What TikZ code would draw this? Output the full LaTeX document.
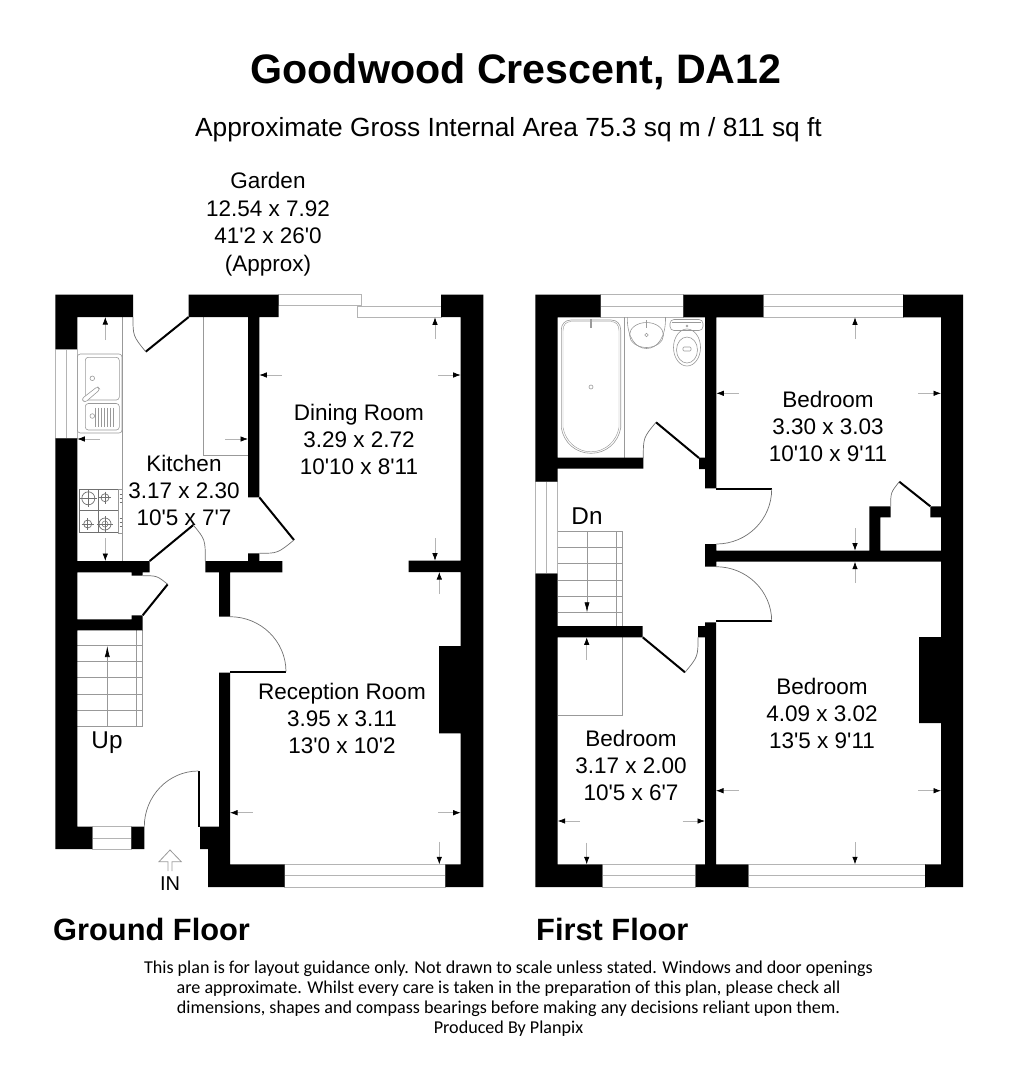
\documentclass[tikz,border=0pt]{standalone}
\usepackage{fontspec}
\setmainfont{Liberation Sans}[Ligatures=TeXOff]
\newfontfamily\footfont{Carlito}
\usetikzlibrary{arrows.meta}
\definecolor{fixt}{HTML}{B4B4B4}
\definecolor{swing}{HTML}{707070}
\tikzset{
  wall/.style={fill=black,draw=none},
  fixture/.style={draw=fixt,line width=0.8pt},
  thin fixture/.style={draw=fixt!85!black,line width=0.6pt},
  leaf/.style={draw=black,line width=2pt},
  doorswing/.style={draw=swing,line width=0.7pt},
  dimarrow/.style={draw=fixt,line width=0.7pt,-{Latex[black,length=7.5pt,width=5.5pt]}},
  room/.style={font=\fontsize{22.5}{27}\selectfont,align=center,inner sep=0pt,text=black},
  floorname/.style={font=\fontsize{30.8}{34}\selectfont\bfseries,anchor=base west,inner sep=0pt},
}
\begin{document}
\begin{tikzpicture}[x=1pt,y=-1pt]
\useasboundingbox (0,0) rectangle (1010,1080);

% ---------- Titles
\node[inner sep=0pt,font=\fontsize{41.2}{45}\selectfont\bfseries] (title) at (516,72) {Goodwood Crescent, DA12};
\node[inner sep=0pt,font=\fontsize{26.3}{30}\selectfont] (subtitle) at (508.5,130) {Approximate Gross Internal Area 75.3 sq m / 811 sq ft};
\node[room,font=\fontsize{22.5}{27.6}\selectfont] (garden) at (268,224) {Garden\\12.54 x 7.92\\41'2 x 26'0\\(Approx)};
\node[floorname] (gf) at (53,940) {Ground Floor};
\node[floorname] (ff) at (536,940) {First Floor};
\node[inner sep=0pt,align=center,font=\fontsize{18.1}{20}\selectfont\footfont] (disclaimer) at (508.5,998.5)
 {This plan is for layout guidance only. Not drawn to scale unless stated. Windows and door openings\\
  are approximate. Whilst every care is taken in the preparation of this plan, please check all\\
  dimensions, shapes and compass bearings before making any decisions reliant upon them.\\
  Produced By Planpix};

% ---------- Ground floor fixtures (under the walls)
% windows
\draw[fixture] (55.3,349) rectangle (77.3,438.3) (66.7,349) -- (66.7,438.3);
\draw[fixture] (92.3,826.7) rectangle (131.3,849) (92.3,838) -- (131.3,838);
\draw[fixture] (284.7,864.3) rectangle (445.3,887) (284.7,875.7) -- (445.3,875.7);
\draw[fixture] (278.7,294.7) rectangle (361.7,305);
\draw[fixture] (357.7,306.7) rectangle (441,317.3);
% worktops
\draw[thin fixture] (122,317) -- (122,561);
\draw[thin fixture] (203.3,317) -- (203.3,455.7) -- (248,455.7);
% sink
\draw[thin fixture,rounded corners=3pt] (77.3,354) rectangle (122,433);
\draw[thin fixture,rounded corners=3pt] (85.3,357.3) rectangle (119.3,400);
\draw[thin fixture,rounded corners=3pt] (85.3,403.5) rectangle (119.3,430);
\draw[thin fixture] (92.3,378.3) circle (2.3) (92.3,416) circle (2.3);
\draw[thin fixture,fill=white,rounded corners=2.5pt] (81.5,399) -- (97.5,386.5) -- (100,389.5) -- (85,402.5) -- cycle;
\foreach \lx in {95,98,101,104,107,110,113} \draw[thin fixture,line width=0.5pt] (\lx,407.5) -- (\lx,426.5);
% hob
\draw[draw=swing,line width=0.9pt] (79,489) rectangle (118.5,532.5) (98.8,489) -- (98.8,532.5) (79,510) -- (118.5,510);
\draw[thin fixture] (118.5,489) rectangle (122.5,533);
\foreach \hx/\hy/\hr in {88.3/498.3/6.5,105/497.7/4,87.7/524/4,105/524/6}{
  \draw[draw=swing,line width=0.7pt] (\hx,\hy) circle (\hr);
  \draw[draw=swing,line width=0.5pt] (\hx-\hr-2,\hy) -- (\hx+\hr+2,\hy) (\hx,\hy-\hr-2) -- (\hx,\hy+\hr+2);
}
\draw[draw=swing,line width=0.5pt] (105,524) circle (3);
\foreach \cy in {494,498,502,518,522,526} \draw[draw=swing,line width=0.8pt] (119.5,\cy) -- (121.5,\cy);
% stairs up
\draw[thin fixture] (136.7,630) -- (136.7,726.7) (142.7,630) -- (142.7,726.7);
\foreach \ty in {645,661.3,677.7,694,710.3,726.7} \draw[thin fixture] (77.3,\ty) -- (142.7,\ty);
\draw[thin fixture,-{Latex[black,length=11pt,width=5pt]}] (107.3,726.7) -- (107.3,646);

% ---------- Ground floor walls
\fill[wall] (55.3,294.7) rectangle (133,317)
  (55.3,294.7) rectangle (77.3,349)
  (55.3,438.3) rectangle (77.3,849)
  (55.3,826.7) rectangle (92.3,849)
  (131.3,826.7) rectangle (144.3,849)
  (188.7,294.7) rectangle (278.7,317)
  (248,317) rectangle (259.3,497.3)
  (248,553.3) rectangle (259.3,565)
  (205.3,561) rectangle (282.3,572.3)
  (77.3,561) rectangle (149.7,572.3)
  (131.7,572.3) rectangle (142.7,575.7)
  (219,572) rectangle (230,616.7)
  (219,672.7) rectangle (230,887)
  (77.3,619.3) rectangle (142.7,630.3)
  (131.7,615.3) rectangle (142.7,630.3)
  (200,826.7) rectangle (219,849)
  (208,849) rectangle (230,887)
  (208,864.3) rectangle (284.7,887)
  (445.3,864.3) rectangle (483.3,887)
  (460.7,294.7) rectangle (483.3,887)
  (441,294.7) rectangle (483.3,317)
  (439,646) rectangle (460.7,733.3)
  (408.7,560.7) rectangle (460.7,572);

% ---------- Ground floor doors
\draw[leaf] (188.7,317) -- (145.7,351.7);
\draw[doorswing] (145.7,351.7) .. controls (133,336) .. (133,317);
\draw[leaf] (149.7,561) -- (193.3,525);
\draw[doorswing] (193.3,525) .. controls (205.3,539.5) .. (205.3,561);
\draw[leaf] (259.3,497.3) -- (294,540);
\draw[doorswing] (294,540) .. controls (277.7,553.3) .. (259.3,553.3);
\draw[leaf] (142.7,615.3) -- (167.7,584.3);
\draw[doorswing] (167.7,584.3) .. controls (157,575.7) .. (142.7,575.7);
\draw[leaf] (230,671.7) -- (286,671.7);
\draw[doorswing] (286,671.7) .. controls (286,641.3) and (260.9,616.7) .. (230,616.7);
\draw[leaf] (199,826.7) -- (199,771);
\draw[doorswing] (198.3,771) .. controls (168.5,771) and (144.3,796) .. (144.3,826.7);

% IN arrow
\draw[thin fixture,line width=0.8pt] (168,871) -- (168,861.7) -- (159,861.7) -- (170,850) -- (181.3,861.7) -- (172,861.7) -- (172,871);
\node[inner sep=0pt,anchor=base,font=\fontsize{20}{22}\selectfont] (in) at (170,890.7) {IN};
\node[inner sep=0pt,anchor=base,font=\fontsize{24.3}{26}\selectfont] (up) at (107,748.3) {Up};

% ---------- Ground floor dimension arrows
\draw[dimarrow] (105.3,340) -- (105.3,317);
\draw[dimarrow] (100,439) -- (77.3,439);
\draw[dimarrow] (225,439) -- (248,439);
\draw[dimarrow] (105.3,538) -- (105.3,561);
\draw[dimarrow] (281.7,375) -- (259.3,375);
\draw[dimarrow] (438,375) -- (460.7,375);
\draw[dimarrow] (435,339) -- (435,317.3);
\draw[dimarrow] (435,538) -- (435,560.7);
\draw[dimarrow] (439.3,594) -- (439.3,572);
\draw[dimarrow] (252.7,812.7) -- (230,812.7);
\draw[dimarrow] (438,812.7) -- (460.7,812.7);
\draw[dimarrow] (439.3,841.7) -- (439.3,864.3);

% ---------- Ground floor labels
\node[room] (kitchen) at (184,490.5) {Kitchen\\3.17 x 2.30\\10'5 x 7'7};
\node[room] (dining) at (359,439) {Dining Room\\3.29 x 2.72\\10'10 x 8'11};
\node[room] (reception) at (342,718) {Reception Room\\3.95 x 3.11\\13'0 x 10'2};

% ---------- First floor fixtures
\draw[fixture] (600.7,294.7) rectangle (683.3,317.3) (600.7,306) -- (683.3,306);
\draw[fixture] (763.3,294.7) rectangle (903,317.3) (763.3,306) -- (903,306);
\draw[fixture] (535.3,481.7) rectangle (557.7,573.7) (546.7,481.7) -- (546.7,573.7);
\draw[fixture] (602.3,864.3) rectangle (695.7,887) (602.3,875.7) -- (695.7,875.7);
\draw[fixture] (748.3,864.3) rectangle (925,887) (748.3,875.7) -- (925,875.7);
% bath
\draw[thin fixture] (561.3,330) .. controls (561.3,324) and (565,320) .. (571,320) -- (611,320) .. controls (617,320) and (620.7,324) .. (620.7,330) -- (620.7,428) .. controls (618,443) and (606,453.3) .. (591,453.3) .. controls (576,453.3) and (564,443) .. (561.3,428) -- cycle;
\draw[thin fixture,line width=0.45pt] (563,330.5) .. controls (563,325) and (566,321.5) .. (571,321.5) -- (611,321.5) .. controls (616,321.5) and (619,325) .. (619,330.5) -- (619,427.5) .. controls (616.5,441.5) and (605,451.8) .. (591,451.8) .. controls (577,451.8) and (565.5,441.5) .. (563,427.5) -- cycle;
\draw[thin fixture,line width=1.4pt,draw=swing!70] (591,319) -- (591,328);
\draw[thin fixture] (591,387) circle (2);
\draw[thin fixture] (624.7,317) -- (624.7,457.7);
% basin
\draw[thin fixture] (627.3,317) .. controls (627,338) and (636,348.5) .. (646.5,348.5) .. controls (657,348.5) and (666,338) .. (665.5,317);
\draw[thin fixture] (646.5,335) ellipse (17 and 12.5);
\draw[thin fixture,draw=swing!70,line width=1.2pt] (646.5,320) -- (646.5,328);
\draw[thin fixture] (646.5,335) circle (1.7);
% wc
\draw[thin fixture,rounded corners=4pt] (670,319.5) rectangle (703,330.5);
\draw[thin fixture,line width=0.45pt] (672,322.5) -- (701,322.5);
\draw[thin fixture] (687,347.5) ellipse (13.5 and 18.5);
\draw[thin fixture] (687,350) ellipse (10.5 and 13);
\draw[draw=swing!70,line width=0.6pt,rounded corners=1pt] (683,347) rectangle (691,351);
\draw[thin fixture] (687,326) circle (1);
% stairs down / bulkhead
\draw[thin fixture] (616.7,531) -- (616.7,626) (622.5,531) -- (622.5,715) -- (557.7,715);
\draw[thin fixture] (557.7,531) -- (622.5,531);
\foreach \ty in {547.3,563.7,580,596,612.3} \draw[thin fixture] (557.7,\ty) -- (622.5,\ty);
\draw[thin fixture,-{Latex[black,length=10pt,width=5pt]}] (587,531) -- (587,612.3);

% ---------- First floor walls
\fill[wall] (535.3,294.7) rectangle (600.7,317.3)
  (535.3,294.7) rectangle (557.7,481.7)
  (535.3,573.7) rectangle (557.7,887)
  (535.3,864.3) rectangle (602.3,887)
  (695.7,864.3) rectangle (748.3,887)
  (705,622.3) rectangle (716,864.3)
  (698,626) rectangle (705,637.3)
  (557.7,626) rectangle (642.7,637.3)
  (683.3,294.7) rectangle (763.3,317.3)
  (705,317.3) rectangle (716.3,488.3)
  (557.7,457.7) rectangle (643.3,468.7)
  (699,457.7) rectangle (705,469)
  (705,544) rectangle (716.3,566.7)
  (716,550.7) rectangle (941,561.7)
  (941,294.7) rectangle (963,887)
  (903,294.7) rectangle (963,317.3)
  (925,864.3) rectangle (963,887)
  (869.3,506.3) rectangle (880.3,551)
  (869.3,506.3) rectangle (890.7,517.3)
  (930.3,506.3) rectangle (941,517.3)
  (919,637) rectangle (941,723);

% ---------- First floor doors
\draw[leaf] (699,458) -- (656,422.3);
\draw[doorswing] (656,422.3) .. controls (643.3,437.6) .. (643.3,458);
\draw[leaf] (716.3,489) -- (771.7,489);
\draw[doorswing] (771.7,489) .. controls (771.7,519.6) and (746.9,544) .. (716.3,544);
\draw[leaf] (716,621.3) -- (771.7,621.3);
\draw[doorswing] (771.7,621.3) .. controls (771.7,591) and (746.7,566.7) .. (716,566.7);
\draw[leaf] (642.7,637.3) -- (685,672.3);
\draw[doorswing] (685,672.3) .. controls (698,656.6) .. (698,637.3);
\draw[leaf] (930.3,506.3) -- (899.3,481.7);
\draw[doorswing] (899.3,481.7) .. controls (890.7,492.5) .. (890.7,506.3);

% ---------- First floor dimension arrows
\draw[dimarrow] (855,339) -- (855,317.3);
\draw[dimarrow] (918.3,393.3) -- (941,393.3);
\draw[dimarrow] (739,393.3) -- (716.3,393.3);
\draw[dimarrow] (855,528) -- (855,550.7);
\draw[dimarrow] (855,583) -- (855,561.7);
\draw[dimarrow] (739,790.7) -- (716,790.7);
\draw[dimarrow] (918.3,790.7) -- (941,790.7);
\draw[dimarrow] (855,842) -- (855,864.3);
\draw[dimarrow] (580,821) -- (557.7,821);
\draw[dimarrow] (682.7,821) -- (705,821);
\draw[dimarrow] (586.7,842.7) -- (586.7,864.3);
\draw[dimarrow] (586.7,660) -- (586.7,637.3);

% ---------- First floor labels
\node[inner sep=0pt,anchor=base,font=\fontsize{24.3}{26}\selectfont] (dn) at (587,524.3) {Dn};
\node[room] (bed1) at (828,426) {Bedroom\\3.30 x 3.03\\10'10 x 9'11};
\node[room] (bed2) at (822,713) {Bedroom\\4.09 x 3.02\\13'5 x 9'11};
\node[room] (bed3) at (631,765.5) {Bedroom\\3.17 x 2.00\\10'5 x 6'7};
\end{tikzpicture}
\end{document}
